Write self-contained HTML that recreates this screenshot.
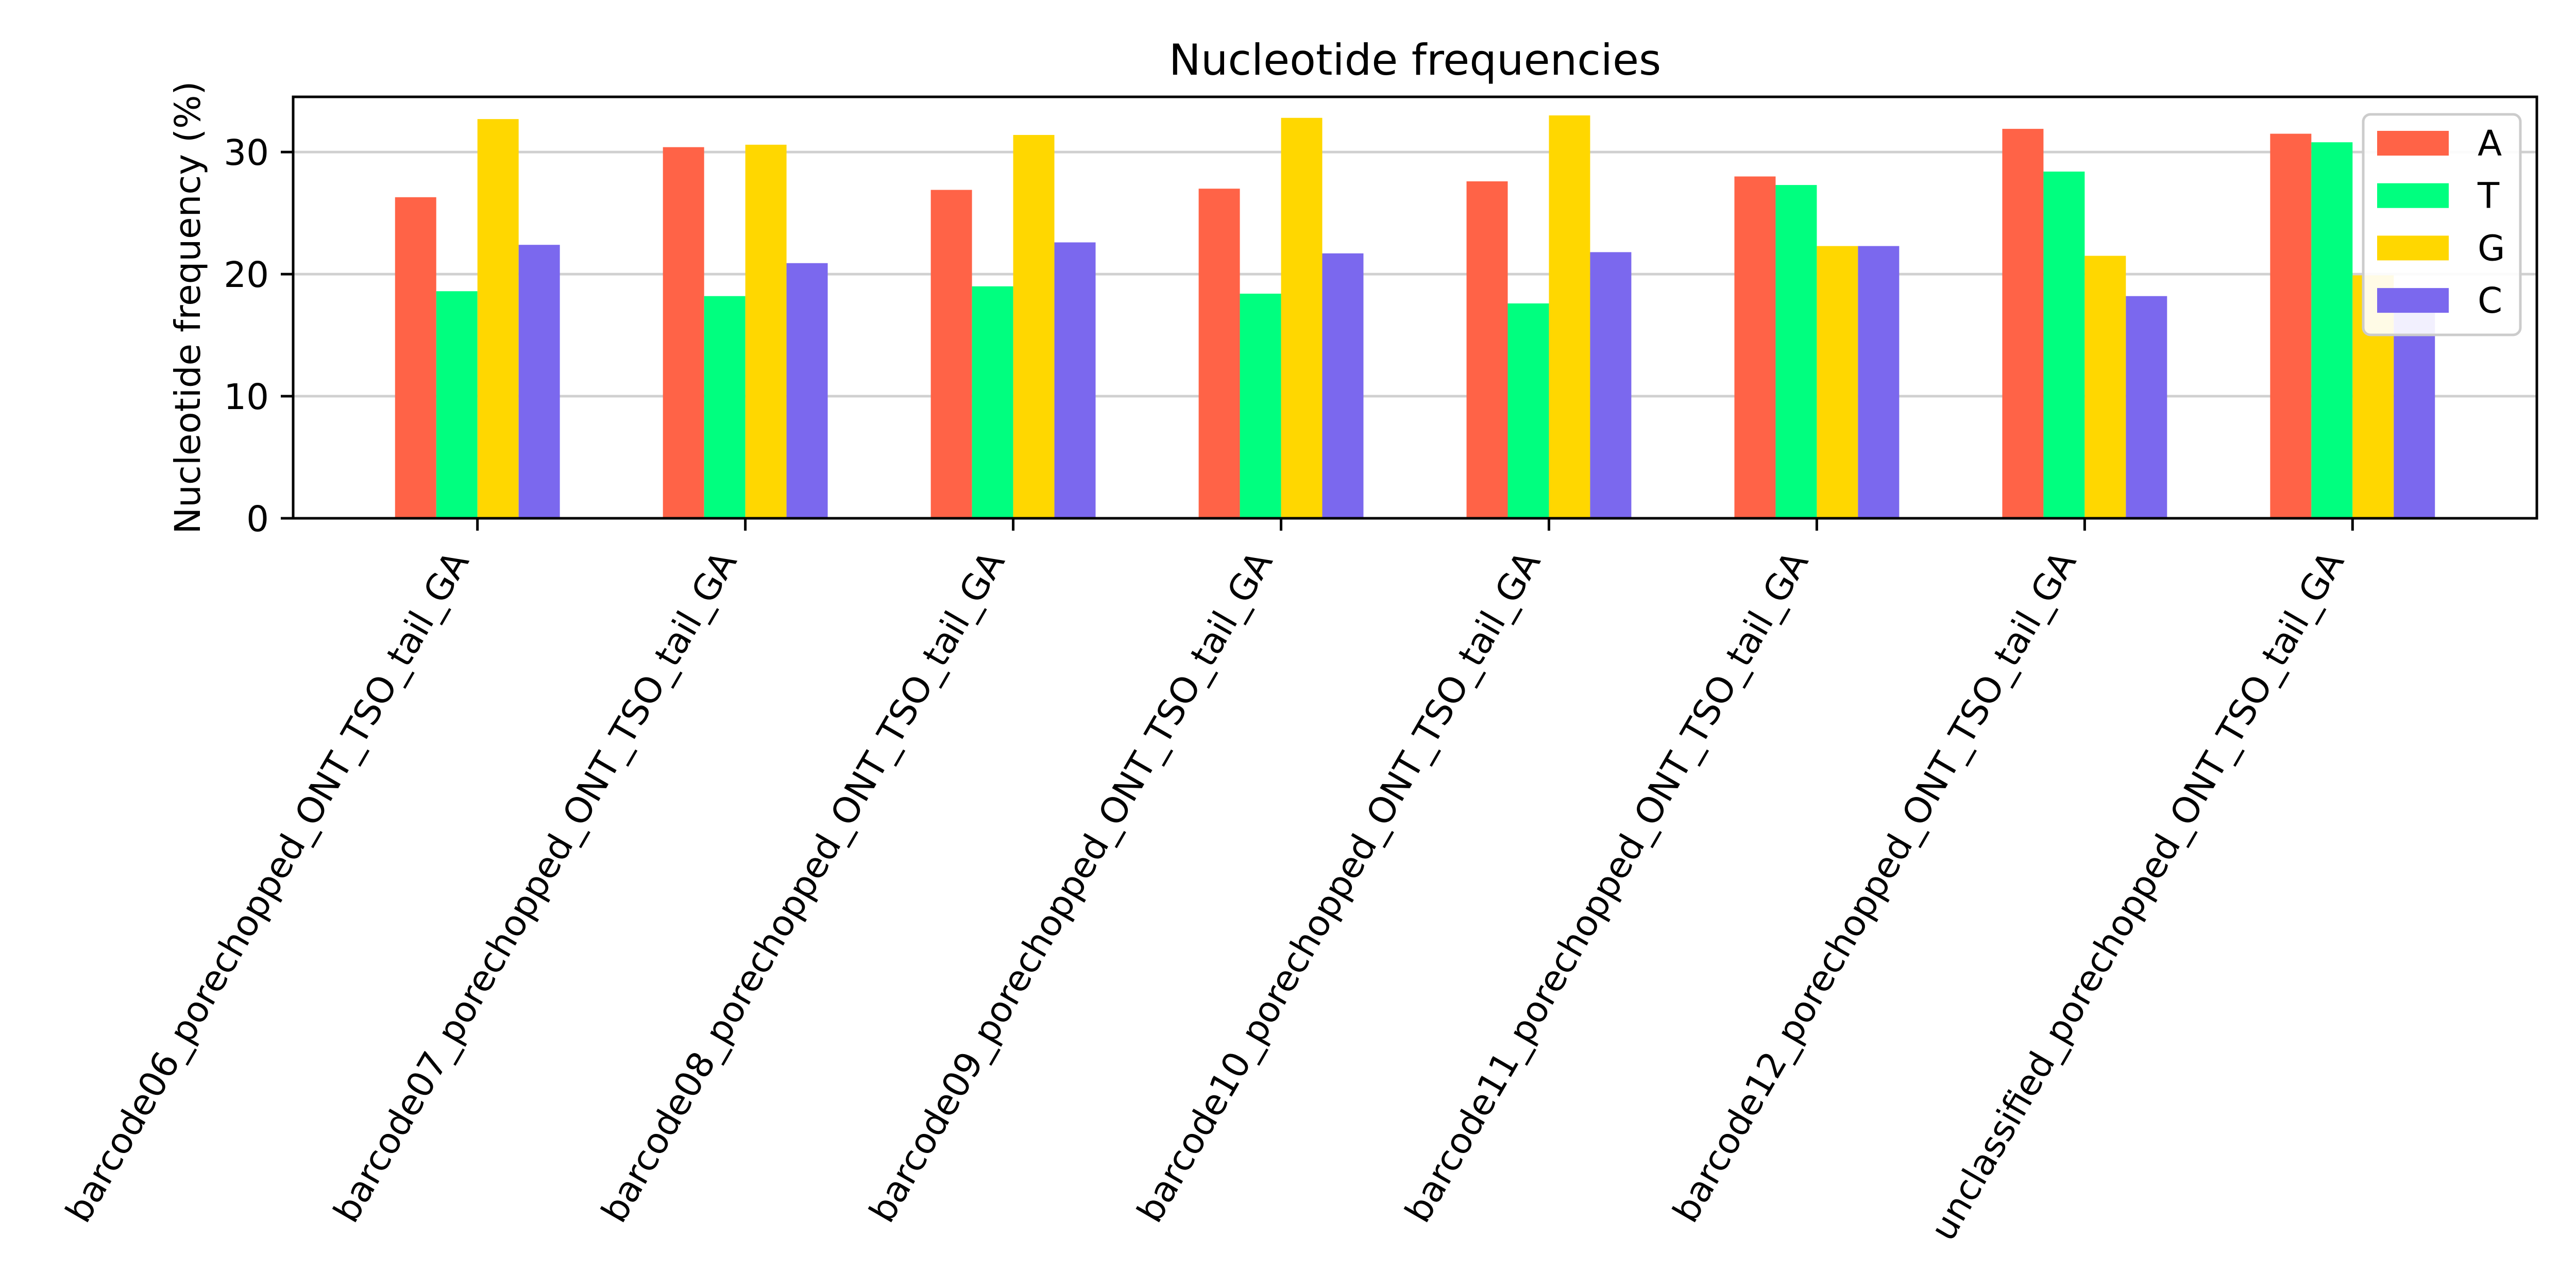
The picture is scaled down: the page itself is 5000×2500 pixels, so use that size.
<!DOCTYPE html>
<html><head><meta charset="utf-8"><style>
html,body{margin:0;padding:0;background:#fff;}
svg{display:block;font-family:"DejaVu Sans","Liberation Sans",sans-serif;}
</style></head><body>
<svg id="chart" width="5000" height="2500" viewBox="0 0 5000 2500" xmlns="http://www.w3.org/2000/svg">
<rect width="5000" height="2500" fill="#fff"/>
<g id="grid"></g>
<g id="bars"></g>
<g id="axes"></g>
<g id="legend"></g>
</svg>
<script>
const categories = ["barcode06_porechopped_ONT_TSO_tail_GA","barcode07_porechopped_ONT_TSO_tail_GA","barcode08_porechopped_ONT_TSO_tail_GA","barcode09_porechopped_ONT_TSO_tail_GA","barcode10_porechopped_ONT_TSO_tail_GA","barcode11_porechopped_ONT_TSO_tail_GA","barcode12_porechopped_ONT_TSO_tail_GA","unclassified_porechopped_ONT_TSO_tail_GA"];
const seriesNames = ["A","T","G","C"];
const seriesColors = ["#ff6347","#00ff7f","#ffd700","#7b68ee"];
const valuesA = [26.3,30.4,26.9,27.0,27.6,28.0,31.9,31.5];
const valuesT = [18.6,18.2,19.0,18.4,17.6,27.3,28.4,30.8];
const valuesG = [32.7,30.6,31.4,32.8,33.0,22.3,21.5,19.9];
const valuesC = [22.4,20.9,22.6,21.7,21.8,22.3,18.2,17.8];
const yTicks = [0,10,20,30];

const NS="http://www.w3.org/2000/svg";
const L=569,R=4924,T=188,B=1006;
const yMax=34.52;
const xMin=-0.688, xMax=7.688;
const xs=v=>L+(v-xMin)/(xMax-xMin)*(R-L);
const ys=v=>B-v/yMax*(B-T);
const barW=0.1538;
function el(tag,attrs,parent){const e=document.createElementNS(NS,tag);for(const k in attrs)e.setAttribute(k,attrs[k]);parent.appendChild(e);return e;}
const grid=document.getElementById('grid'),bars=document.getElementById('bars'),axes=document.getElementById('axes'),legend=document.getElementById('legend');

yTicks.forEach(t=>{
  if(t>0){const g=el('line',{x1:L,x2:R,y1:ys(t),y2:ys(t),stroke:'#d0d0d0','stroke-width':5},grid);
  
  }
  const tk=el('line',{x1:L-24,x2:L,y1:ys(t),y2:ys(t),stroke:'#000','stroke-width':5},axes);
  
  
  const tx=el('text',{x:522,y:ys(t)+25,'text-anchor':'end','font-size':69,fill:'#000'},axes);
  tx.textContent=t;
  
  
});

const allSeries=[valuesA,valuesT,valuesG,valuesC];
allSeries.forEach((vals,si)=>{
  vals.forEach((v,ci)=>{
    const x0=xs(ci+(si-2)*barW), x1=xs(ci+(si-1)*barW);
    const r=el('rect',{x:x0,y:ys(v),width:x1-x0,height:ys(0)-ys(v),fill:seriesColors[si]},bars);
    
    
  });
});

categories.forEach((c,i)=>{
  const x=xs(i);
  const tk=el('line',{x1:x,x2:x,y1:B,y2:B+24,stroke:'#000','stroke-width':5},axes);
  
  
  const tx=el('text',{x:0,y:0,'text-anchor':'end','font-size':69,fill:'#000',transform:`translate(${x-15},1088) rotate(-60)`},axes);
  tx.textContent=c;
  
  
});

const frame=el('rect',{x:L,y:T,width:R-L,height:B-T,fill:'none',stroke:'#000','stroke-width':5},axes);



const title=el('text',{x:(L+R)/2,y:145,'text-anchor':'middle','font-size':83,fill:'#000'},axes);
title.textContent='Nucleotide frequencies';



const yl=el('text',{x:0,y:0,'text-anchor':'middle','font-size':69,fill:'#000',transform:`translate(388,${(T+B)/2}) rotate(-90)`},axes);
yl.textContent='Nucleotide frequency (%)';



const lb=el('rect',{x:4587,y:222,width:305,height:428,rx:14,fill:'#fff','fill-opacity':0.9,stroke:'#cccccc','stroke-width':5},legend);


seriesNames.forEach((n,i)=>{
  const y=254+i*101.7;
  const p=el('rect',{x:4614,y:y,width:139,height:48,fill:seriesColors[i]},legend);
  
  
  const t=el('text',{x:4809,y:y+48,'font-size':69,fill:'#000'},legend);
  t.textContent=n;
  
  
});
</script>
</body></html>
